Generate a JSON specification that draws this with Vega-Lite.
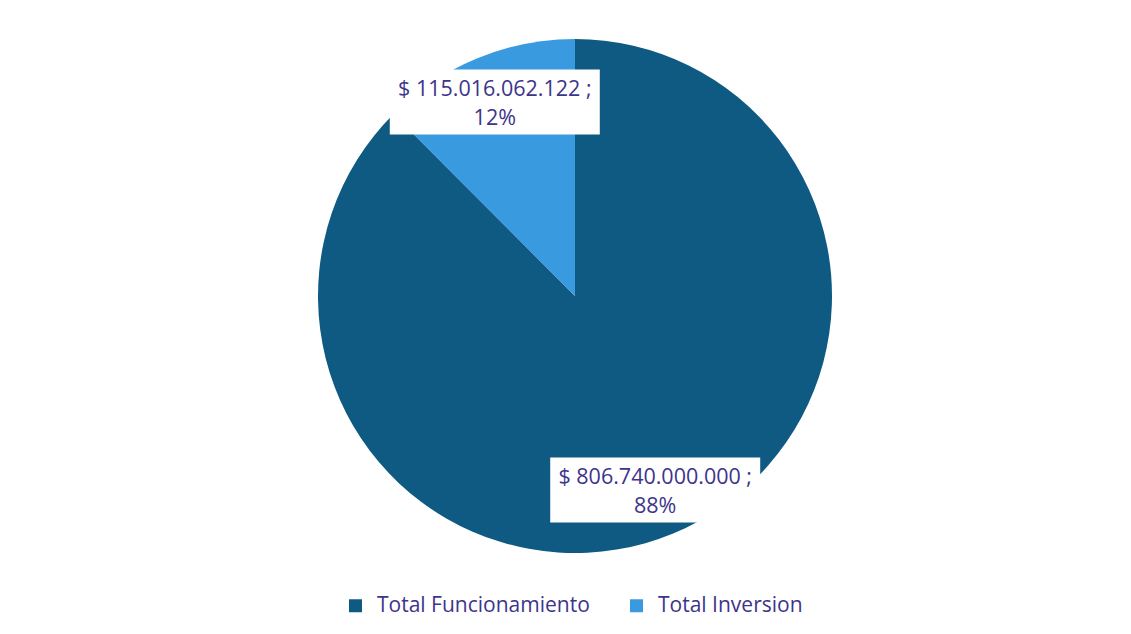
{
  "$schema": "https://vega.github.io/schema/vega-lite/v6.json",
  "width": 514,
  "height": 514,
  "autosize": "none",
  "padding": {"left": 318, "top": 39, "right": 299, "bottom": 81},
  "background": "white",
  "config": {"view": {"stroke": null}},
  "data": {
    "values": [
      {"category": "Total Funcionamiento", "value": 806740000000, "label": "$ 806.740.000.000 ;\n88%"},
      {"category": "Total Inversion", "value": 115016062122, "label": "$ 115.016.062.122 ;\n12%"}
    ]
  },
  "transform": [
    {"joinaggregate": [{"op": "sum", "field": "value", "as": "total"}]},
    {"window": [{"op": "sum", "field": "value", "as": "cum"}], "sort": [{"field": "category", "order": "ascending"}], "frame": [null, 0]},
    {"calculate": "2*PI*(datum.cum - datum.value/2)/datum.total", "as": "mid"},
    {"calculate": "0.817*sin(datum.mid)", "as": "bx"},
    {"calculate": "0.817*cos(datum.mid)", "as": "by"}
  ],
  "layer": [
    {
      "mark": {"type": "arc"},
      "encoding": {
        "theta": {"field": "value", "type": "quantitative", "stack": true},
        "color": {
          "field": "category",
          "type": "nominal",
          "scale": {"domain": ["Total Funcionamiento", "Total Inversion"], "range": ["#0f5a82", "#3a9ae0"]},
          "legend": {
            "orient": "none",
            "legendX": 27,
            "legendY": 556,
            "direction": "horizontal",
            "columns": 2,
            "title": null,
            "symbolType": "square",
            "symbolSize": 169,
            "symbolStrokeWidth": 0,
            "labelFontSize": 21,
            "labelFont": "Open Sans",
            "labelColor": "#3d348b",
            "labelOffset": 11,
            "labelLimit": 0,
            "columnPadding": 36
          }
        }
      }
    },
    {
      "mark": {"type": "point", "shape": "M-1,-0.31L1,-0.31L1,0.31L-1,0.31Z", "size": 44100, "filled": true, "fill": "white", "opacity": 1, "strokeWidth": 0},
      "encoding": {
        "x": {"field": "bx", "type": "quantitative", "scale": {"domain": [-1, 1], "nice": false, "zero": false}, "axis": null},
        "y": {"field": "by", "type": "quantitative", "scale": {"domain": [-1, 1], "nice": false, "zero": false}, "axis": null}
      }
    },
    {
      "mark": {"type": "text", "lineBreak": "\n", "font": "Open Sans", "fontSize": 21.5, "color": "#3d348b", "lineHeight": 29, "align": "center", "baseline": "middle", "dy": -12},
      "encoding": {
        "x": {"field": "bx", "type": "quantitative"},
        "y": {"field": "by", "type": "quantitative"},
        "text": {"field": "label"}
      }
    }
  ]
}
